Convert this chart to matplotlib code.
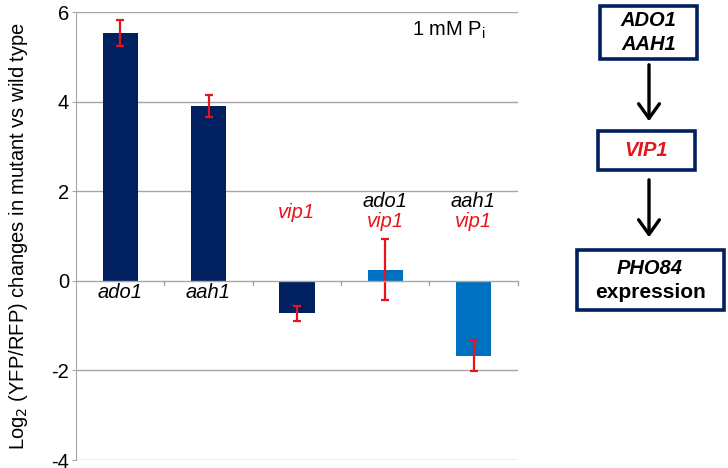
import matplotlib
matplotlib.use("Agg")
import matplotlib.pyplot as plt
from matplotlib.patches import Rectangle, FancyArrowPatch

plt.rcParams['font.family'] = ['Liberation Sans', 'DejaVu Sans']

# data
strains = ["ado1", "aah1", "vip1", "ado1 vip1", "aah1 vip1"]
log2_change = [5.54, 3.91, -0.72, 0.25, -1.67]
errors = [0.29, 0.25, 0.17, 0.68, 0.35]
bar_colors = ["#002060", "#002060", "#002060", "#0070C0", "#0070C0"]
yticks = [-4, -2, 0, 2, 4, 6]

NAVY = "#002060"
RED = "#E8141B"
GRID = "#A6A6A6"

fig = plt.figure(figsize=(7.28, 4.68), dpi=100)
ax = fig.add_axes([76 / 728, 1 - 460 / 468, (517.7 - 76) / 728, (460 - 12.3) / 468])

x = list(range(len(strains)))
ax.bar(x, log2_change, width=0.4, color=bar_colors, zorder=3)
ax.errorbar(x, log2_change, yerr=errors, fmt="none", ecolor=RED,
            elinewidth=1.6, capsize=3, capthick=1.6, zorder=4)

ax.set_xlim(-0.5, 4.5)
ax.set_ylim(-4, 6)
ax.set_yticks(yticks)
ax.set_yticklabels([str(t) for t in yticks], fontsize=14.5)
ax.tick_params(axis="y", length=3, color=GRID, pad=2)
ax.set_xticks([])
for t in yticks:
    if t != 0:
        ax.axhline(t, color=GRID, lw=1, zorder=1)
ax.axhline(0, color=GRID, lw=1, zorder=5)
# category boundary ticks below the zero line
for b in [0.5, 1.5, 2.5, 3.5, 4.5]:
    ax.plot([b, b], [0, -0.1], color=GRID, lw=1, zorder=5, clip_on=False)

for s in ["top", "right", "bottom"]:
    ax.spines[s].set_visible(False)
ax.spines["left"].set_color(GRID)

ax.set_ylabel("Log$_2$ (YFP/RFP) changes in mutant vs wild type", fontsize=14.5)
ax.yaxis.set_label_coords(-0.104, 0.5)

# category labels
lab_kw = dict(ha="center", va="center", fontsize=14.5, style="italic")
ax.text(0, -0.26, "ado1", color="black", **lab_kw)
ax.text(1, -0.26, "aah1", color="black", **lab_kw)
ax.text(2, 1.53, "vip1", color=RED, **lab_kw)
ax.text(3, 1.78, "ado1", color="black", **lab_kw)
ax.text(3, 1.33, "vip1", color=RED, **lab_kw)
ax.text(4, 1.78, "aah1", color="black", **lab_kw)
ax.text(4, 1.33, "vip1", color=RED, **lab_kw)

ax.text(3.72, 5.6, "1 mM P$_\\mathregular{i}$", ha="center", va="center", fontsize=14.5)

# pathway diagram on the right, in pixel coordinates
d = fig.add_axes([0, 0, 1, 1], zorder=-1)
d.set_xlim(0, 728)
d.set_ylim(468, 0)
d.axis("off")

boxes = [(600, 6, 97, 53), (598, 131, 97, 39), (577, 250, 147, 60)]
for bx, by, bw, bh in boxes:
    d.add_patch(Rectangle((bx, by), bw, bh, fill=False, edgecolor=NAVY, lw=2.6))

d.text(648.5, 21, "ADO1", ha="center", va="center", fontsize=14.5,
       weight="bold", style="italic")
d.text(648.5, 44, "AAH1", ha="center", va="center", fontsize=14.5,
       weight="bold", style="italic")
d.text(646.5, 151, "VIP1", ha="center", va="center", fontsize=14.5,
       weight="bold", style="italic", color=RED)
d.text(650, 268, "PHO84", ha="center", va="center", fontsize=14.5,
       weight="bold", style="italic")
d.text(650, 292, "expression", ha="center", va="center", fontsize=15,
       weight="bold")

for y0, y1 in [(62, 124), (177, 240)]:
    d.add_patch(FancyArrowPatch((649, y0), (649, y1), arrowstyle="->,head_length=7,head_width=5",
                                color="black", lw=2.4, mutation_scale=1.5))

fig.savefig("out.png", dpi=100)
